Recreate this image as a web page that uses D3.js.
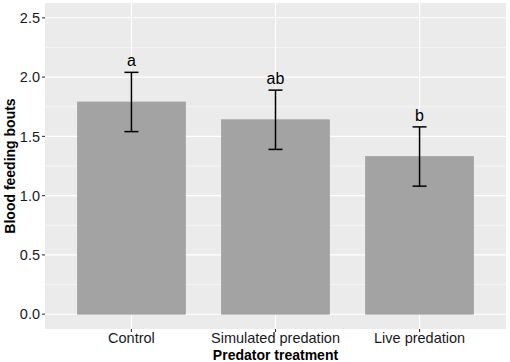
<!DOCTYPE html>
<meta charset="utf-8">
<head>
<style>
  body { margin: 0; background: #fff; }
  text { font-family: "Liberation Sans", Arial, sans-serif; }
  .grid-major { stroke: #fff; stroke-width: 1.1px; }
  .grid-minor { stroke: #fff; stroke-width: 0.55px; }
</style>
</head>
<body>
<script src="https://d3js.org/d3.v7.min.js"></script>
<script>
// chart data
var treatments = ["Control", "Simulated predation", "Live predation"];
var means = [1.79, 1.64, 1.33];
var errs = [0.25, 0.25, 0.25];
var letters = ["a", "ab", "b"];
var yTicks = [0, 0.5, 1.0, 1.5, 2.0, 2.5];
var yMinor = [0.25, 0.75, 1.25, 1.75, 2.25];

var W = 510, H = 362;
var margin = { top: 3, right: 4, bottom: 33, left: 45 },
    width = W - margin.left - margin.right,
    height = H - margin.top - margin.bottom;

var svg = d3.select("body").append("svg")
    .attr("width", W)
    .attr("height", H);

var g = svg.append("g")
    .attr("transform", "translate(" + margin.left + "," + margin.top + ")");

// discrete x: 0.6 unit expansion each side, bars 0.75 wide
var x = d3.scaleLinear().domain([0.4, treatments.length + 0.6]).range([0, width]);
function cx(d) { return x(treatments.indexOf(d) + 1); }
var barW = x(1.75) - x(1);

var y = d3.scaleLinear().domain([-0.125, 2.625]).range([height, 0]);

// panel
g.append("rect")
    .attr("width", width)
    .attr("height", height)
    .attr("fill", "#ebebeb");

g.selectAll(".grid-minor")
    .data(yMinor)
    .enter().append("line")
    .attr("class", "grid-minor")
    .attr("x1", 0).attr("x2", width)
    .attr("y1", d => y(d)).attr("y2", d => y(d));

g.selectAll(".grid-major-y")
    .data(yTicks)
    .enter().append("line")
    .attr("class", "grid-major")
    .attr("x1", 0).attr("x2", width)
    .attr("y1", d => y(d)).attr("y2", d => y(d));

g.selectAll(".grid-major-x")
    .data(treatments)
    .enter().append("line")
    .attr("class", "grid-major")
    .attr("x1", d => cx(d)).attr("x2", d => cx(d))
    .attr("y1", 0).attr("y2", height);

// bars
g.selectAll(".bar")
    .data(treatments)
    .enter().append("rect")
    .attr("x", d => cx(d) - barW / 2)
    .attr("width", barW)
    .attr("y", (d, i) => y(means[i]))
    .attr("height", (d, i) => y(0) - y(means[i]))
    .attr("fill", "#a3a3a3")
    .attr("stroke", "#9a9a9a")
    .attr("stroke-width", 0.6);

// error bars
var eb = g.selectAll(".eb")
    .data(treatments)
    .enter().append("g");
eb.append("line")
    .attr("x1", d => cx(d)).attr("x2", d => cx(d))
    .attr("y1", (d, i) => y(means[i] + errs[i]))
    .attr("y2", (d, i) => y(means[i] - errs[i]));
eb.append("line")
    .attr("x1", d => cx(d) - 7).attr("x2", d => cx(d) + 7)
    .attr("y1", (d, i) => y(means[i] + errs[i]))
    .attr("y2", (d, i) => y(means[i] + errs[i]));
eb.append("line")
    .attr("x1", d => cx(d) - 7).attr("x2", d => cx(d) + 7)
    .attr("y1", (d, i) => y(means[i] - errs[i]))
    .attr("y2", (d, i) => y(means[i] - errs[i]));
eb.selectAll("line").attr("stroke", "#000").attr("stroke-width", 1.5);

// significance letters
g.selectAll(".letter")
    .data(treatments)
    .enter().append("text")
    .attr("x", d => cx(d))
    .attr("y", (d, i) => y(means[i] + errs[i]) - 6)
    .attr("text-anchor", "middle")
    .style("font-size", "16px")
    .attr("fill", "#000")
    .text((d, i) => letters[i]);

// y axis
var ya = g.selectAll(".ytick")
    .data(yTicks)
    .enter().append("g")
    .attr("transform", d => "translate(0," + y(d) + ")");
ya.append("line").attr("x1", -3).attr("x2", 0).attr("stroke", "#333").attr("stroke-width", 1.1);
ya.append("text")
    .attr("x", -5)
    .attr("dy", "0.36em")
    .attr("text-anchor", "end")
    .style("font-size", "14.5px")
    .attr("fill", "#1a1a1a")
    .text(d => d.toFixed(1));

// x axis
var xa = g.selectAll(".xtick")
    .data(treatments)
    .enter().append("g")
    .attr("transform", d => "translate(" + cx(d) + "," + height + ")");
xa.append("line").attr("y1", 0).attr("y2", 3).attr("stroke", "#333").attr("stroke-width", 1.1);
xa.append("text")
    .attr("y", 14)
    .attr("text-anchor", "middle")
    .style("font-size", "14.5px")
    .attr("fill", "#1a1a1a")
    .text(d => d);

// axis titles
svg.append("text")
    .attr("x", margin.left + width / 2)
    .attr("y", 360)
    .attr("text-anchor", "middle")
    .style("font-size", "14px")
    .style("font-weight", "bold")
    .text("Predator treatment");

svg.append("text")
    .attr("transform", "translate(15," + (margin.top + height / 2) + ") rotate(-90)")
    .attr("text-anchor", "middle")
    .style("font-size", "14px")
    .style("font-weight", "bold")
    .text("Blood feeding bouts");
</script>
</body>
</html>
